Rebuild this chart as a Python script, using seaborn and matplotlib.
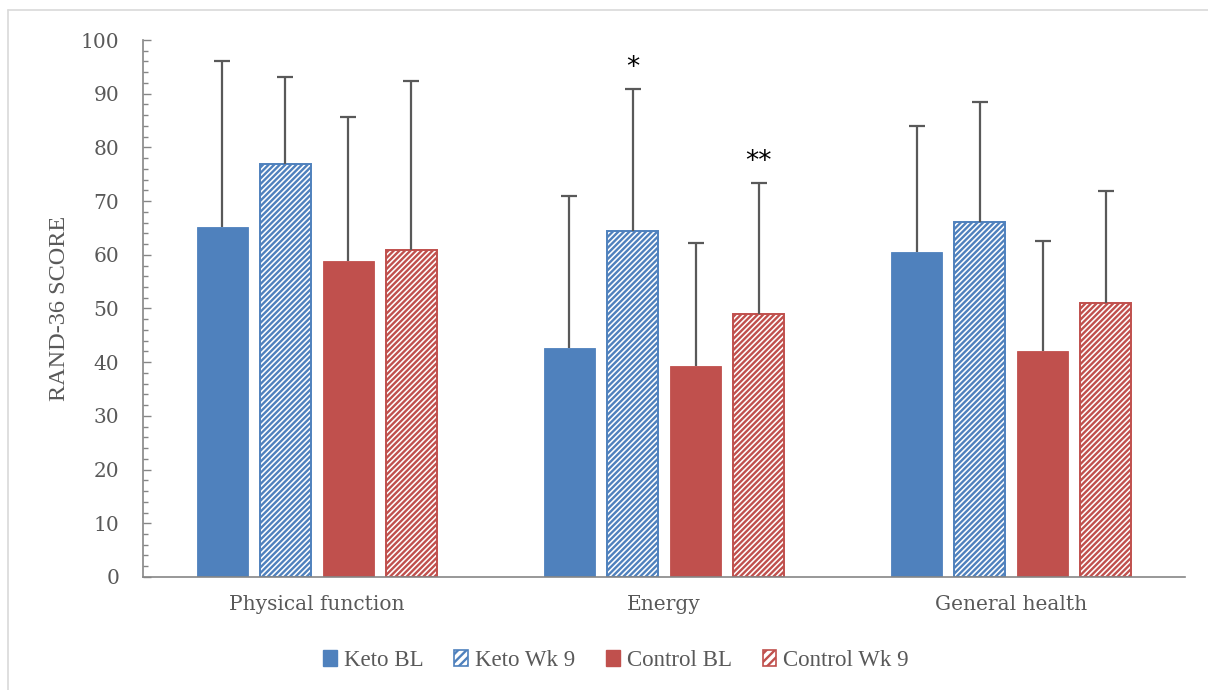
import numpy as np
import pandas as pd
import matplotlib
matplotlib.use("Agg")
import matplotlib.pyplot as plt
from matplotlib.patches import Patch
from matplotlib.lines import Line2D
from matplotlib.ticker import MultipleLocator
import seaborn as sns

# RAND-36 domain scores: group means and standard deviations
domains = ["Physical function", "Energy", "General health"]
groups = ["Keto BL", "Keto Wk 9", "Control BL", "Control Wk 9"]

keto_bl_mean = [65.2, 42.6, 60.5]
keto_wk9_mean = [76.9, 64.4, 66.1]
control_bl_mean = [58.8, 39.3, 42.1]
control_wk9_mean = [60.9, 49.0, 51.0]

keto_bl_sd = [30.9, 28.4, 23.5]
keto_wk9_sd = [16.2, 26.5, 22.4]
control_bl_sd = [26.9, 22.9, 20.5]
control_wk9_sd = [31.5, 24.4, 20.9]

# significance markers (group, domain index, label)
markers = [("Keto Wk 9", 1, "*"), ("Control Wk 9", 1, "**")]

group_colors = ["#4F81BD", "#4F81BD", "#C0504D", "#C0504D"]
group_hatched = [False, True, False, True]

means = [keto_bl_mean, keto_wk9_mean, control_bl_mean, control_wk9_mean]
sds = [keto_bl_sd, keto_wk9_sd, control_bl_sd, control_wk9_sd]

rows = []
for g, m, s in zip(groups, means, sds):
    for d, mv, sv in zip(domains, m, s):
        rows.append({"domain": d, "group": g, "score": mv, "sd": sv})
df = pd.DataFrame(rows)

sns.set_theme(style="white")
plt.rcParams["hatch.linewidth"] = 1.7

TEXT = "#595959"
AXIS = "#868686"
HATCH = "//////"

fig = plt.figure(figsize=(12.08, 6.90), dpi=100)
ax = fig.add_axes([0.1184, 0.1638, 0.981 - 0.1184, 0.942 - 0.1638])

sns.barplot(data=df, x="domain", y="score", hue="group", order=domains,
            hue_order=groups, palette=group_colors, errorbar=None,
            width=0.726, gap=0.19, legend=False, ax=ax, saturation=1)

# style bars, add one-sided SD whiskers and significance markers
centers = {}
for g, color, hatched, container in zip(groups, group_colors, group_hatched, ax.containers):
    xs = []
    for bar in container:
        if hatched:
            bar.set_facecolor("white")
            bar.set_edgecolor(color)
            bar.set_hatch(HATCH)
            bar.set_linewidth(1.4)
        else:
            bar.set_facecolor(color)
            bar.set_edgecolor(color)
            bar.set_linewidth(0.6)
        xs.append(bar.get_x() + bar.get_width() / 2)
    centers[g] = xs
    sub = df[df["group"] == g].set_index("domain").loc[domains]
    _, caps, _ = ax.errorbar(xs, sub["score"].values,
                             yerr=[np.zeros(len(domains)), sub["sd"].values],
                             fmt="none", ecolor="#595959", elinewidth=1.6,
                             capsize=5.5, capthick=1.6, zorder=5)
    # keep only the upper cap
    caps[0].set_visible(False)

for g, di, label in markers:
    sub = df[(df["group"] == g) & (df["domain"] == domains[di])].iloc[0]
    ax.annotate(label, xy=(centers[g][di], sub["score"] + sub["sd"]),
                xytext=(0, 10), textcoords="offset points",
                ha="center", va="baseline", fontsize=19, color="black",
                family="DejaVu Sans")

ax.set_xlim(-0.5, 2.5)
ax.set_ylim(0, 100)
ax.yaxis.set_major_locator(MultipleLocator(10))
ax.yaxis.set_minor_locator(MultipleLocator(2))

for side in ["top", "right"]:
    ax.spines[side].set_visible(False)
for side in ["left", "bottom"]:
    ax.spines[side].set_color(AXIS)
    ax.spines[side].set_linewidth(1.2)

ax.tick_params(axis="y", which="major", direction="in", length=6, width=1,
               color=AXIS, pad=17, labelsize=14.5, labelcolor=TEXT, left=True)
ax.tick_params(axis="y", which="minor", direction="in", length=3.5, width=1,
               color=AXIS, left=True)
ax.tick_params(axis="x", which="both", length=0, pad=13, labelsize=14.5,
               labelcolor=TEXT)
for lab in ax.get_xticklabels() + ax.get_yticklabels():
    lab.set_family("DejaVu Serif")

ax.set_xlabel("")
ax.set_ylabel("RAND-36 SCORE", fontsize=17.5, color=TEXT,
              family="Liberation Serif")
ax.yaxis.set_label_coords(-0.07, 0.5)

handles = []
for g, color, hatched in zip(groups, group_colors, group_hatched):
    if hatched:
        handles.append(Patch(facecolor="white", edgecolor=color, hatch="////",
                             linewidth=1.2, label=g))
    else:
        handles.append(Patch(facecolor=color, edgecolor=color, label=g))
leg = fig.legend(handles=handles, loc="center", bbox_to_anchor=(0.51, 0.043),
                 ncol=4, frameon=False, handlelength=0.6, handleheight=0.75,
                 handletextpad=0.3, columnspacing=1.35,
                 prop={"family": "Liberation Serif", "size": 16.5})
for t in leg.get_texts():
    t.set_color(TEXT)

# light outer frame
W, H = 1208, 690
fig.add_artist(Line2D([8 / W, 8 / W], [0, 1 - 10 / H], color="#D9D9D9",
                      lw=1.2, transform=fig.transFigure))
fig.add_artist(Line2D([8 / W, 1], [1 - 10 / H, 1 - 10 / H], color="#D9D9D9",
                      lw=1.2, transform=fig.transFigure))

fig.savefig("out.png", dpi=100, facecolor="white")
